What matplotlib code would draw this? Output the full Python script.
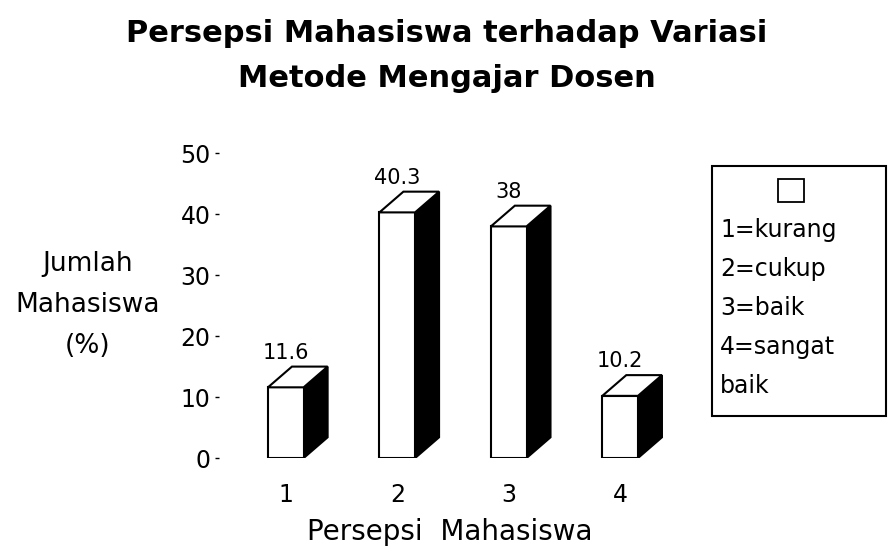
import matplotlib
matplotlib.use("Agg")
from matplotlib import pyplot as plt
from matplotlib.patches import Polygon, Rectangle

categories = [1, 2, 3, 4]
values = [11.6, 40.3, 38, 10.2]
value_labels = ["11.6", "40.3", "38", "10.2"]
yticks = [0, 10, 20, 30, 40, 50]
legend_lines = ["1=kurang", "2=cukup", "3=baik", "4=sangat", "baik"]

plt.rcParams['font.family'] = ['DejaVu Sans']

W, H = 889, 560
fig = plt.figure(figsize=(W / 100, H / 100), dpi=100)
ax = fig.add_axes([0.2463, 0.1821, 0.5265, 0.566])

width = 0.32
dx = 0.215
dy = 3.4

ax.bar(categories, values, width=width, color="white", edgecolor="black", linewidth=1.5, zorder=3)
for x, v, lab in zip(categories, values, value_labels):
    x0 = x - width / 2
    x1 = x + width / 2
    side = Polygon([(x1, 0), (x1 + dx, dy), (x1 + dx, v + dy), (x1, v)],
                   closed=True, facecolor="black", edgecolor="black", lw=1.5, zorder=2)
    top = Polygon([(x0, v), (x0 + dx, v + dy), (x1 + dx, v + dy), (x1, v)],
                  closed=True, facecolor="white", edgecolor="black", lw=1.5, zorder=4)
    ax.add_patch(side)
    ax.add_patch(top)
    ax.text(x, v + dy + 1.3, lab, ha="center", va="baseline", fontsize=15)

ax.set_xlim(0.4, 4.6)
ax.set_ylim(0, 52)
ax.set_xticks(categories)
ax.set_yticks(yticks)
ax.tick_params(axis="x", length=0, pad=18, labelsize=17)
ax.tick_params(axis="y", length=3, width=1, pad=3, labelsize=17)
for s in ax.spines.values():
    s.set_visible(False)

# title, two lines placed by baseline
fig.text(447 / W, 1 - 42 / H, "Persepsi Mahasiswa terhadap Variasi",
         ha="center", va="baseline", fontsize=22, fontweight="bold")
fig.text(447 / W, 1 - 87 / H, "Metode Mengajar Dosen",
         ha="center", va="baseline", fontsize=22, fontweight="bold")

fig.text(88 / W, 1 - 305 / H, "Jumlah\nMahasiswa\n(%)", ha="center", va="center",
         fontsize=19, linespacing=1.75)
fig.text(450 / W, 1 - 532 / H, "Persepsi  Mahasiswa", ha="center", va="center", fontsize=20)

# legend box
fig.add_artist(Rectangle((712 / W, 1 - 416 / H), 174 / W, 250 / H,
                         transform=fig.transFigure, facecolor="white",
                         edgecolor="black", lw=1.5))
fig.add_artist(Rectangle((778 / W, 1 - 202 / H), 26 / W, 23 / H,
                         transform=fig.transFigure, facecolor="white",
                         edgecolor="black", lw=1.3))
for i, line in enumerate(legend_lines):
    fig.text(720 / W, 1 - (237 + i * 39) / H, line, ha="left", va="baseline", fontsize=17)

fig.savefig("out.png", dpi=100)
